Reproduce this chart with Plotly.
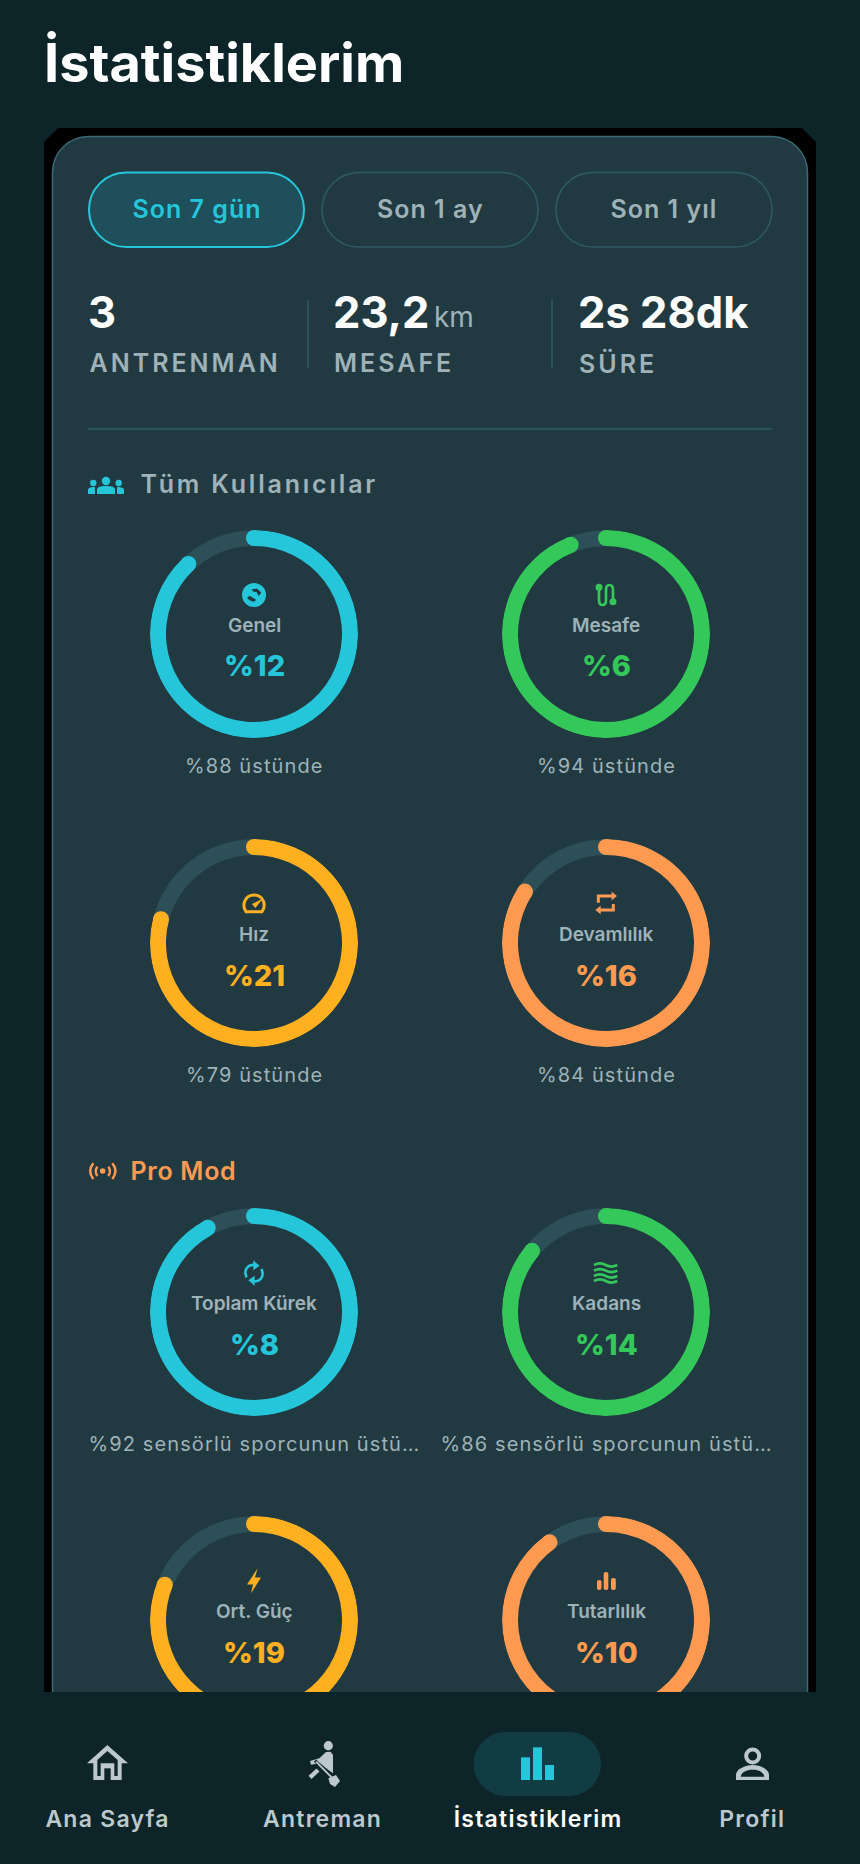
import re
import json
import plotly.graph_objects as go

W, H = 860, 1864

# ---------- data ----------
ring_names = ["Genel", "Mesafe", "Hız", "Devamlılık", "Toplam Kürek", "Kadans", "Ort. Güç", "Tutarlılık"]
ring_percent = [12, 6, 21, 16, 8, 14, 19, 10]
ring_above = [88, 94, 79, 84, 92, 86, 81, 90]
period_labels = ["Son 7 gün", "Son 1 ay", "Son 1 yıl"]
stat_values = ["3", "23,2", "2s 28dk"]
stat_labels = ["ANTRENMAN", "MESAFE", "SÜRE"]
nav_labels = ["Ana Sayfa", "Antreman", "İstatistiklerim", "Profil"]

# ---------- style ----------
BG = "#0d2429"
CARD = "#213a42"
CARD_LINE = "#3a6a75"
TRACK = "#2c4f58"
CYAN = "#26c6da"
GREEN = "#34c759"
AMBER = "#ffb020"
ORANGE = "#ff9a50"
MUTED = "#9fb2b8"
NAV = "#bcc8cc"
FONT = "Inter"
ring_colors = [CYAN, GREEN, AMBER, ORANGE] * 2
ring_x = [254, 606, 254, 606, 254, 606, 254, 606]
ring_y = [634, 634, 943, 943, 1312, 1312, 1620, 1620]
OUTER = 104
THICK = 16


def fx(x):
    return x / W


def fy(y):
    return 1 - y / H


def path(d, ox=0.0, oy=0.0, k=1.0):
    """Path in local units -> paper coordinates."""
    out = []
    for cmd, args in re.findall(r"([MLCQZ])([^MLCQZ]*)", d):
        nums = [float(v) for v in re.findall(r"-?\d+\.?\d*", args)]
        pts = []
        for i in range(0, len(nums), 2):
            pts.append(f"{fx(ox + nums[i] * k):.6f},{fy(oy + nums[i + 1] * k):.6f}")
        out.append(cmd + " ".join(pts))
    return " ".join(out)


shapes = []


def fill(d, color, ox=0.0, oy=0.0, k=1.0, layer="above"):
    shapes.append(dict(type="path", path=path(d, ox, oy, k), xref="paper", yref="paper",
                       fillcolor=color, line=dict(width=0), layer=layer))


def stroke(d, color, w, ox=0.0, oy=0.0, k=1.0, layer="above"):
    shapes.append(dict(type="path", path=path(d, ox, oy, k), xref="paper", yref="paper",
                       line=dict(width=w, color=color), layer=layer))


def rr(x0, y0, x1, y1, r):
    c = r * 0.448
    return (f"M{x0 + r} {y0} L{x1 - r} {y0} C{x1 - c} {y0} {x1} {y0 + c} {x1} {y0 + r} "
            f"L{x1} {y1 - r} C{x1} {y1 - c} {x1 - c} {y1} {x1 - r} {y1} "
            f"L{x0 + r} {y1} C{x0 + c} {y1} {x0} {y1 - c} {x0} {y1 - r} "
            f"L{x0} {y0 + r} C{x0} {y0 + c} {x0 + c} {y0} {x0 + r} {y0} Z")


def box(x0, y0, x1, y1, r, fc, line=None, lw=0, layer="below"):
    shapes.append(dict(type="path", path=path(rr(x0, y0, x1, y1, r)), xref="paper", yref="paper",
                       fillcolor=fc, line=dict(width=lw, color=line or fc), layer=layer))


def dot(cx, cy, r, color, layer="above", line=None, lw=0):
    shapes.append(dict(type="circle", xref="paper", yref="paper", x0=fx(cx - r), x1=fx(cx + r),
                       y0=fy(cy + r), y1=fy(cy - r), fillcolor=color,
                       line=dict(width=lw, color=line or color), layer=layer))


annotations = []
spacing = {}


def text(x, y, s, size, color, weight=400, anchor="center", ls=0):
    # the text sits centred in its box, so tracking widens it to both sides
    if ls and anchor == "left":
        x += len(s) * ls / 2
    annotations.append(dict(x=fx(x), y=fy(y), xref="paper", yref="paper", text=s, showarrow=False,
                            xanchor=anchor, yanchor="middle", borderpad=0,
                            font=dict(family=FONT, size=size, color=color, weight=weight)))
    if ls:
        spacing[f"{s}|{size}"] = ls


# ---------- page / card ----------
fill("M44 142 L58 128 L802 128 L816 142 L816 1700 L44 1700 Z", "#000000", layer="below")
box(52.5, 136.5, 807.5, 1760, 36, CARD, CARD_LINE, 1.5)

# period pills
pill_x = [(89, 304), (322, 538), (556, 772)]
for i, (a, b) in enumerate(pill_x):
    on = i == 0
    box(a, 172.5, b, 247, 37, "#1f4f5a" if on else CARD, CYAN if on else "#2f5a64", 2 if on else 1.5)
    text((a + b) / 2, 209, period_labels[i], 25, CYAN if on else MUTED, 600, ls=1)

# stats
stat_x = [87, 332, 577]
label_x = [88, 333, 578]
for i, x in enumerate(stat_x):
    text(x, 312, stat_values[i], 43.5, "#ffffff", 700, "left")
    text(label_x[i], 363, stat_labels[i], 25, MUTED, 600, "left", ls=3)
text(433, 317, "km", 28, MUTED, 400, "left")
for x in (308, 552):
    shapes.append(dict(type="line", xref="paper", yref="paper", x0=fx(x), x1=fx(x), y0=fy(300), y1=fy(368),
                       line=dict(width=1.5, color="#2f5a64"), layer="below"))
shapes.append(dict(type="line", xref="paper", yref="paper", x0=fx(88), x1=fx(772), y0=fy(429), y1=fy(429),
                   line=dict(width=1.5, color="#2f5f69"), layer="below"))

# section headings
text(140, 484, "Tüm Kullanıcılar", 25, MUTED, 600, "left", ls=2.8)
text(129.5, 1171, "Pro Mod", 25, ORANGE, 600, "left", ls=0.7)

# title
text(43, 63, "İstatistiklerim", 54, "#ffffff", 700, "left")

# ---------- rings ----------
traces = []
layout_polars = {}
for i, p in enumerate(ring_percent):
    name = "polar" if i == 0 else f"polar{i + 1}"
    cx, cy, col = ring_x[i], ring_y[i], ring_colors[i]
    done = 100 - p
    traces.append(go.Barpolar(subplot=name, r=[THICK, THICK], base=[OUTER - THICK, OUTER - THICK],
                              theta=[done * 1.8, (done + p / 2) * 3.6], width=[done * 3.6, p * 3.6],
                              marker=dict(color=[col, TRACK], line=dict(width=0)),
                              hoverinfo="skip", showlegend=False))
    traces.append(go.Scatterpolar(subplot=name, r=[OUTER - THICK / 2] * 2, theta=[0, done * 3.6],
                                  mode="markers", marker=dict(size=THICK, color=col, line=dict(width=0)),
                                  hoverinfo="skip", showlegend=False))
    layout_polars[name] = dict(
        domain=dict(x=[fx(cx - OUTER), fx(cx + OUTER)], y=[fy(cy + OUTER), fy(cy - OUTER)]),
        bgcolor="rgba(0,0,0,0)", hole=0,
        radialaxis=dict(visible=False, range=[0, OUTER]),
        angularaxis=dict(visible=False, rotation=90, direction="clockwise"),
    )
    text(cx, cy - 8.5, ring_names[i], 19, MUTED, 600)
    text(cx, cy + 32, f"%{p}", 29, col, 800)
    if cy + 133 < 1690:
        cap = f"%{ring_above[i]} üstünde" if i < 4 else f"%{ring_above[i]} sensörlü sporcunun üstü…"
        text(cx, cy + 132, cap, 20, MUTED, 400, ls=1.1)

# ---------- small icons (local units are 3x crop pixels) ----------
k = 1 / 3
# users
dot(106, 481, 4.2, CYAN); dot(93.3, 483, 3.2, CYAN); dot(118.7, 483, 3.2, CYAN)
fill("M97 494 L97 490 C97 487 100 486 106 486 C112 486 115 487 115 490 L115 494 Z", CYAN)
fill("M88 494 L88 490 C88 488 90 487 95 487 L95 494 Z", CYAN)
fill("M124 494 L124 490 C124 488 122 487 117 487 L117 494 Z", CYAN)
# broadcast
dot(80 + 68 * k, 1150 + 63 * k, 2.8, ORANGE)
for d in ["M52 50 C46 58 46 70 52 78", "M40 40 C28 55 28 72 40 87",
          "M85 50 C91 58 91 70 85 78", "M97 40 C109 55 109 72 97 87"]:
    stroke(d, ORANGE, 2.5, 80, 1150, k)
# globe
dot(254, 595, 12, CYAN)
fill("M456 268 L472 266 L484 278 L476 288 L470 277 L458 274 Z", CARD, 100, 500, k)
fill("M441 294 L449 287 L468 299 L463 305 C453 304 446 300 441 294 Z", CARD, 100, 500, k)
# route
dot(570 + 87 * k, 570 + 52 * k, 3.5, GREEN); dot(570 + 129 * k, 570 + 95 * k, 3.5, GREEN)
stroke("M87 52 L87 90 C87 110 108 110 108 90 L108 60 C108 40 129 40 129 60 L129 95", GREEN, 2.7, 570, 570, k)
# gauge
stroke("M78 95 L126 95 C140 75 130 45 102 45 C75 45 64 75 78 95 Z", AMBER, 3, 220, 880, k)
fill("M96 72 L128 56 L106 84 Z", AMBER, 220, 880, k)
# repeat
stroke("M85 68 L85 48 L130 48", ORANGE, 3, 570, 880, k)
fill("M125 35 L141 48 L125 61 Z", ORANGE, 570, 880, k)
stroke("M130 72 L130 90 L85 90", ORANGE, 3, 570, 880, k)
fill("M92 77 L76 90 L92 103 Z", ORANGE, 570, 880, k)
# sync
stroke("M80 67 C68 42 88 24 108 32", CYAN, 2.6, 220, 1255, k)
fill("M100 16 L119 32 L100 46 Z", CYAN, 220, 1255, k)
stroke("M124 42 C136 67 116 85 96 76", CYAN, 2.6, 220, 1255, k)
fill("M104 92 L85 76 L104 62 Z", CYAN, 220, 1255, k)
# waves
for y in (30, 47, 63, 78):
    stroke(f"M72 {y} C84 {y - 6} 96 {y - 6} 107 {y} C118 {y + 6} 130 {y + 6} 142 {y}", GREEN, 2.7, 570, 1255, k)
# bolt
fill("M3.5 -12.5 L-7 3.5 L-1 3.5 L-3 12.5 L7 -3.5 L1 -3.5 Z", AMBER, 254, 1581)
# consistency bars
box(597, 1580, 601.5, 1590, 2, ORANGE, layer="above")
box(603.7, 1572, 608.3, 1590, 2, ORANGE, layer="above")
box(611, 1578, 615.8, 1590, 2, ORANGE, layer="above")

# ---------- nav bar ----------
shapes.append(dict(type="rect", xref="paper", yref="paper", x0=0, x1=1, y0=0, y1=fy(1692),
                   fillcolor=BG, line=dict(width=0), layer="above"))
box(473.7, 1732, 601, 1796, 32, "#123c43", layer="above")
# home
fill("M82 75 L144 130 L125 130 L125 180 L40 180 L40 130 L21 130 Z", NAV, 80, 1720, k)
fill("M82 93 L113 120 L113 168 L103 168 L103 130 L62 130 L62 168 L52 168 L52 120 Z", BG, 80, 1720, k)
fill("M73 145 L92 145 L92 180 L73 180 Z", BG, 80, 1720, k)
# rower
dot(80 + 745 * k, 1720 + 77 * k, 4.6, NAV)
fill("M738 96 L752 95 L759 105 L759 160 L745 150 L720 130 L693 134 L690 123 L718 115 Z", NAV, 80, 1720, k)
stroke("M690 172 L714 150", NAV, 4.4, 80, 1720, k)
stroke("M705 122 L755 172", BG, 3.2, 80, 1720, k)
stroke("M708 125 L755 172", NAV, 2, 80, 1720, k)
fill("M745 175 L768 165 L780 183 L765 201 L750 192 Z", NAV, 80, 1720, k)
# bars
for a, b, t in [(153, 180, 112), (189, 216, 82), (225, 252, 135)]:
    fill(f"M{a} {t} L{b} {t} L{b} 180 L{a} 180 Z", CYAN, 470, 1720, k)
# profile
dot(470 + 848 * k, 1720 + 108 * k, 6.5, BG, line=NAV, lw=4)
fill("M798 180 L798 165 C798 148 825 135 848 135 C871 135 897 148 897 165 L897 180 Z", NAV, 470, 1720, k)
fill("M812 170 L883 170 C880 155 865 149 848 149 C830 149 815 155 812 170 Z", BG, 470, 1720, k)

nav_x = [107.5, 322.5, 537.6, 752.6]
for i, x in enumerate(nav_x):
    text(x, 1819, nav_labels[i], 23, "#ffffff" if i == 2 else NAV, 600, ls=1.25)

fig = go.Figure(traces)
fig.update_layout(width=W, height=H, margin=dict(l=0, r=0, t=0, b=0, pad=0), autosize=False,
                  paper_bgcolor=BG, plot_bgcolor=BG, showlegend=False,
                  shapes=shapes, annotations=annotations, **layout_polars)

post = """
document.body.style.margin='0';
var tracking = %s;
function applyTracking(){
  document.querySelectorAll('.annotation-text').forEach(function(t){
    var ls = tracking[t.textContent + '|' + parseFloat(t.style.fontSize)];
    if(ls){ t.style.letterSpacing = ls + 'px'; }
  });
}
applyTracking();
setTimeout(applyTracking, 50);
setTimeout(applyTracking, 300);
""" % json.dumps(spacing)
fig.write_html("out.html", config=dict(displayModeBar=False), post_script=post)
